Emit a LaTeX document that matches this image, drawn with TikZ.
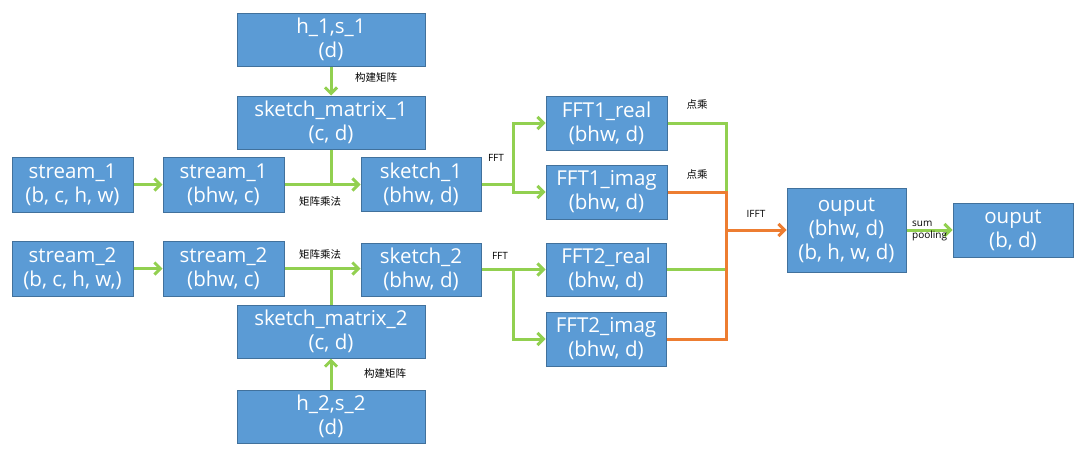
\documentclass[tikz,border=0pt]{standalone}
\usepackage{fontspec}
\setmainfont{Open Sans}
\newfontfamily\cjk{Noto Sans CJK SC}
\usetikzlibrary{arrows.meta}
\definecolor{boxblue}{HTML}{5B9BD5}
\definecolor{boxedge}{HTML}{41719C}
\definecolor{lgreen}{HTML}{92D050}
\definecolor{lorange}{HTML}{ED7D31}
\begin{document}
\begin{tikzpicture}[x=1pt,y=-1pt,
  box/.style={draw=boxedge,fill=boxblue,line width=1pt,text=white,align=center,
    inner sep=0pt,font=\fontsize{20.5}{24}\selectfont},
  wide/.style={box,minimum width=188pt,minimum height=53pt},
  narrow/.style={box,minimum width=121pt,minimum height=54pt},
  gline/.style={draw=lgreen,line width=3pt},
  garrow/.style={gline,-{Straight Barb[length=6pt,width=12pt]}},
  oline/.style={draw=lorange,line width=3pt},
  oarrow/.style={oline,-{Straight Barb[length=6pt,width=12pt]}},
  lab/.style={font=\cjk\fontsize{10.5}{12}\selectfont,inner sep=0pt},
  slab/.style={font=\fontsize{10}{12}\selectfont,inner sep=0pt}]
\useasboundingbox[fill=white] (0,0) rectangle (1080,458);

\node[wide] (h1) at (331,39.5) {h\_1,s\_1\\(d)};
\node[wide] (sm1) at (331,122.5) {sketch\_matrix\_1\\(c, d)};
\node[narrow,minimum height=55pt] (s1a) at (72.5,184.5) {stream\_1\\(b, c, h, w)};
\node[narrow,minimum height=55pt] (s1b) at (223.5,184.5) {stream\_1\\(bhw, c)};
\node[narrow,minimum width=120pt] (sk1) at (421,184.5) {sketch\_1\\(bhw, d)};
\node[narrow,minimum height=55pt] (s2a) at (72.5,268.5) {stream\_2\\(b, c, h, w,)};
\node[narrow,minimum height=55pt] (s2b) at (223.5,268.5) {stream\_2\\(bhw, c)};
\node[narrow,minimum width=120pt,minimum height=53pt] (sk2) at (421,269.5) {sketch\_2\\(bhw, d)};
\node[wide] (sm2) at (331,331.5) {sketch\_matrix\_2\\(c, d)};
\node[wide] (h2) at (331,416.5) {h\_2,s\_2\\(d)};
\node[narrow] (f1r) at (606.5,123) {FFT1\_real\\(bhw, d)};
\node[narrow] (f1i) at (606.5,192) {FFT1\_imag\\(bhw, d)};
\node[narrow,minimum width=120pt,minimum height=53pt] (f2r) at (606,269.5) {FFT2\_real\\(bhw, d)};
\node[narrow,minimum width=120pt] (f2i) at (606,339) {FFT2\_imag\\(bhw, d)};
\node[box,minimum width=119pt,minimum height=84pt] (out) at (846.5,230) {ouput\\(bhw, d)\\(b, h, w, d)};
\node[narrow,minimum width=120pt] (out2) at (1013,230) {ouput\\(b, d)};

% left part
\draw[garrow] (h1.south) -- (sm1.north);
\draw[garrow] (s1a.east) -- (s1b.west);
\draw[garrow] (s1b.east) -- (sk1.west);
\draw[gline] (sm1.south) -- (sm1.south |- s1b.east);
\draw[garrow] (s2a.east) -- (s2b.west);
\draw[garrow] (s2b.east) -- (s2b.east -| sk2.west);
\draw[gline] (sm2.north) -- (sm2.north |- s2b.east);
\draw[garrow] (h2.north) -- (sm2.south);

% FFT splits
\draw[gline] (sk1.east) -- ++(32,0) coordinate (j1);
\draw[garrow] (j1) |- (f1r.west);
\draw[garrow] (j1) |- (f1i.west);
\draw[gline] (sk2.east) -- ++(32,0) coordinate (j2);
\draw[garrow] (j2) |- (f2r.west);
\draw[garrow] (j2) |- (f2i.west);

% merge
\coordinate (m) at (726,230);
\draw[gline] (f1r.east) -| (m);
\draw[gline] (f2r.east) -- (f2r.east -| m);
\draw[oline] (f1i.east) -| (m);
\draw[oline] (f2i.east) -| (m);
\draw[oarrow] (m) -- (out.west);
\draw[garrow] (out.east) -- (out2.west);

% labels
\node[lab] at (376,78) {构建矩阵};
\node[lab] at (385,374) {构建矩阵};
\node[lab] at (320,202) {矩阵乘法};
\node[lab] at (320,255) {矩阵乘法};
\node[slab] at (496,158) {FFT};
\node[slab] at (500,256) {FFT};
\node[lab] at (697,105) {点乘};
\node[lab] at (697,175) {点乘};
\node[slab] at (756,214) {IFFT};
\node[slab,align=left,anchor=west] at (912,231) {sum\\pooling};
\end{tikzpicture}
\end{document}
